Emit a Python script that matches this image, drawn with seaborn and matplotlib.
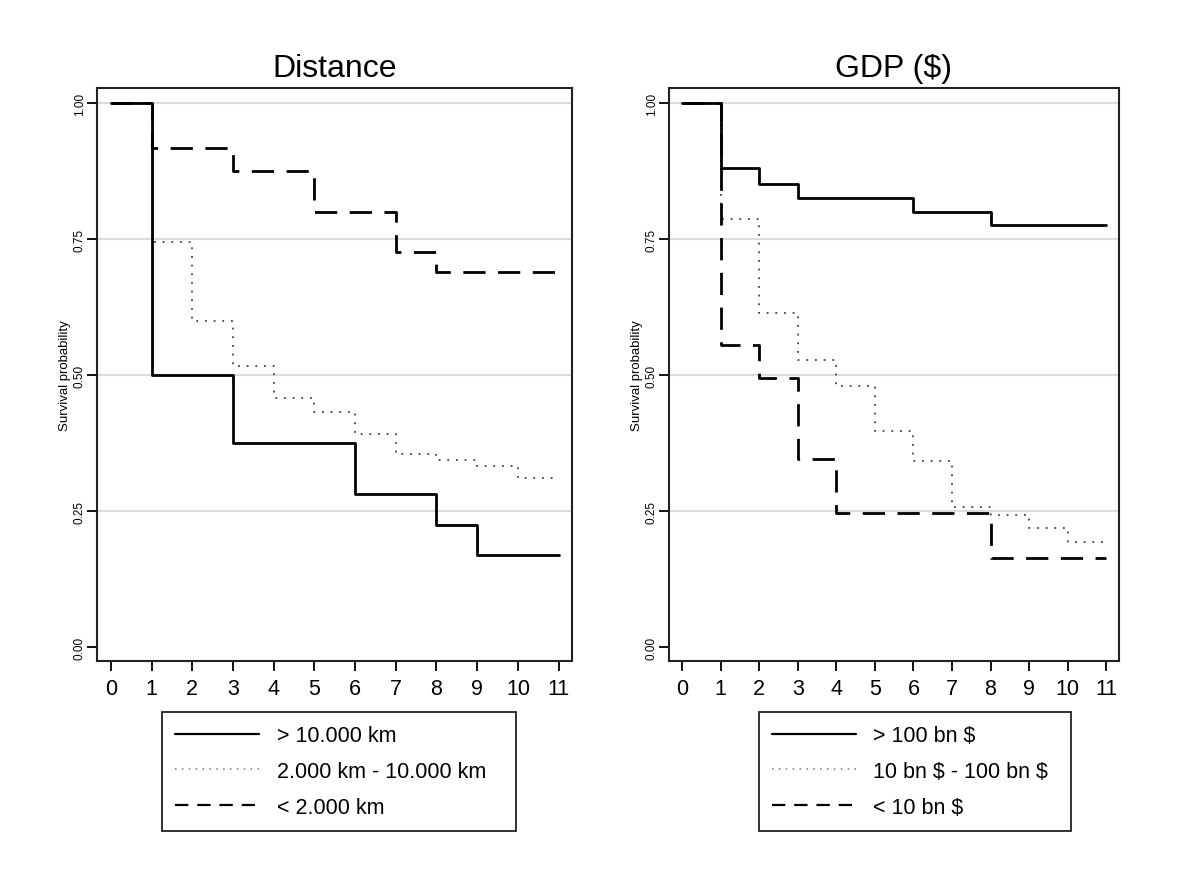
import numpy as np
import pandas as pd
import seaborn as sns
import matplotlib.pyplot as plt
from matplotlib.lines import Line2D

# survival estimates, one value per year 0..11
years = list(range(12))

dist_labels = ["> 10.000 km", "2.000 km - 10.000 km", "< 2.000 km"]
dist_far = [1.0, 0.5, 0.5, 0.375, 0.375, 0.375, 0.281, 0.281, 0.225, 0.169, 0.169, 0.169]
dist_mid = [1.0, 0.745, 0.60, 0.518, 0.458, 0.432, 0.392, 0.355, 0.344, 0.333, 0.311, 0.311]
dist_near = [1.0, 0.917, 0.917, 0.875, 0.875, 0.80, 0.80, 0.727, 0.69, 0.69, 0.69, 0.69]

gdp_labels = ["> 100 bn \\$", "10 bn \\$ - 100 bn \\$", "< 10 bn \\$"]
gdp_high = [1.0, 0.881, 0.852, 0.826, 0.826, 0.826, 0.80, 0.80, 0.777, 0.777, 0.777, 0.777]
gdp_mid = [1.0, 0.788, 0.614, 0.529, 0.48, 0.397, 0.342, 0.258, 0.244, 0.22, 0.194, 0.194]
gdp_low = [1.0, 0.555, 0.495, 0.346, 0.247, 0.247, 0.247, 0.247, 0.165, 0.165, 0.165, 0.165]

yticks = [0.0, 0.25, 0.5, 0.75, 1.0]

sns.set_style("white")
plt.rcParams["font.family"] = ["Liberation Sans", "DejaVu Sans"]
plt.rcParams["text.color"] = "black"
plt.rcParams["xtick.color"] = "black"
plt.rcParams["ytick.color"] = "black"
plt.rcParams["axes.labelcolor"] = "black"

styles = [
    dict(color="black", lw=2.0, linestyle="-", zorder=4),
    dict(color="#444444", lw=1.3, linestyle=(0, (1, 3.8)), zorder=3),
    dict(color="black", lw=2.0, linestyle=(0, (8, 4.5)), zorder=3),
]
# the legend keys use a shorter dash, as in the reference
leg_styles = [
    dict(color="black", lw=1.6, linestyle="-"),
    dict(color="#777777", lw=1.1, linestyle=(0, (1, 3.5))),
    dict(color="black", lw=1.6, linestyle=(0, (6, 4))),
]

fig = plt.figure(figsize=(11.92, 8.7), dpi=100)
ax1 = fig.add_axes([0.0814, 0.2391, 0.3985, 0.6586])
ax2 = fig.add_axes([0.5612, 0.2391, 0.3775, 0.6586])

panels = [
    (ax1, "Distance", dist_labels, [dist_far, dist_mid, dist_near], (0.1359, 0.0506, 0.297, 0.1299)),
    (ax2, "GDP ($)", gdp_labels, [gdp_high, gdp_mid, gdp_low], (0.6367, 0.0506, 0.2617, 0.1299)),
]

for ax, title, labels, series, box in panels:
    for lab, vals, st in zip(labels, series, styles):
        df = pd.DataFrame({"year": years, "surv": vals})
        sns.lineplot(data=df, x="year", y="surv", ax=ax, drawstyle="steps-post",
                     estimator=None, legend=False, **st)
    ax.set_xlim(-0.34, 11.33)
    ax.set_ylim(-0.025, 1.028)
    ax.set_xticks(years)
    ax.set_yticks(yticks)
    ax.set_yticklabels([f"{v:.2f}" for v in yticks], rotation=90, va="center", fontsize=8.5)
    ax.tick_params(axis="x", labelsize=15.5, length=7, width=1.3, direction="out", bottom=True, pad=5)
    ax.tick_params(axis="y", length=7, width=1.3, direction="out", left=True, pad=1)
    ax.yaxis.grid(True, color="#dcdcdc", lw=1.5)
    ax.get_ygridlines()[0].set_visible(False)
    ax.set_axisbelow(True)
    for s in ax.spines.values():
        s.set_color("#222222")
        s.set_linewidth(1.5)
    ax.set_xlabel("")
    ax.set_ylabel("Survival probability", fontsize=9.5, labelpad=2)
    ax.set_title(title, fontsize=23, pad=9)
    handles = [Line2D([], [], **ls) for ls in leg_styles]
    leg = ax.legend(handles, labels, loc="upper left", bbox_to_anchor=box,
                    bbox_transform=fig.transFigure, mode="expand", borderaxespad=0,
                    fontsize=15.5, handlelength=3.9, handletextpad=0.8, labelspacing=0.68,
                    borderpad=0.62, fancybox=False, framealpha=1, edgecolor="#222222")
    leg.get_frame().set_linewidth(1.3)

fig.savefig("out.png", dpi=100, facecolor="white")
